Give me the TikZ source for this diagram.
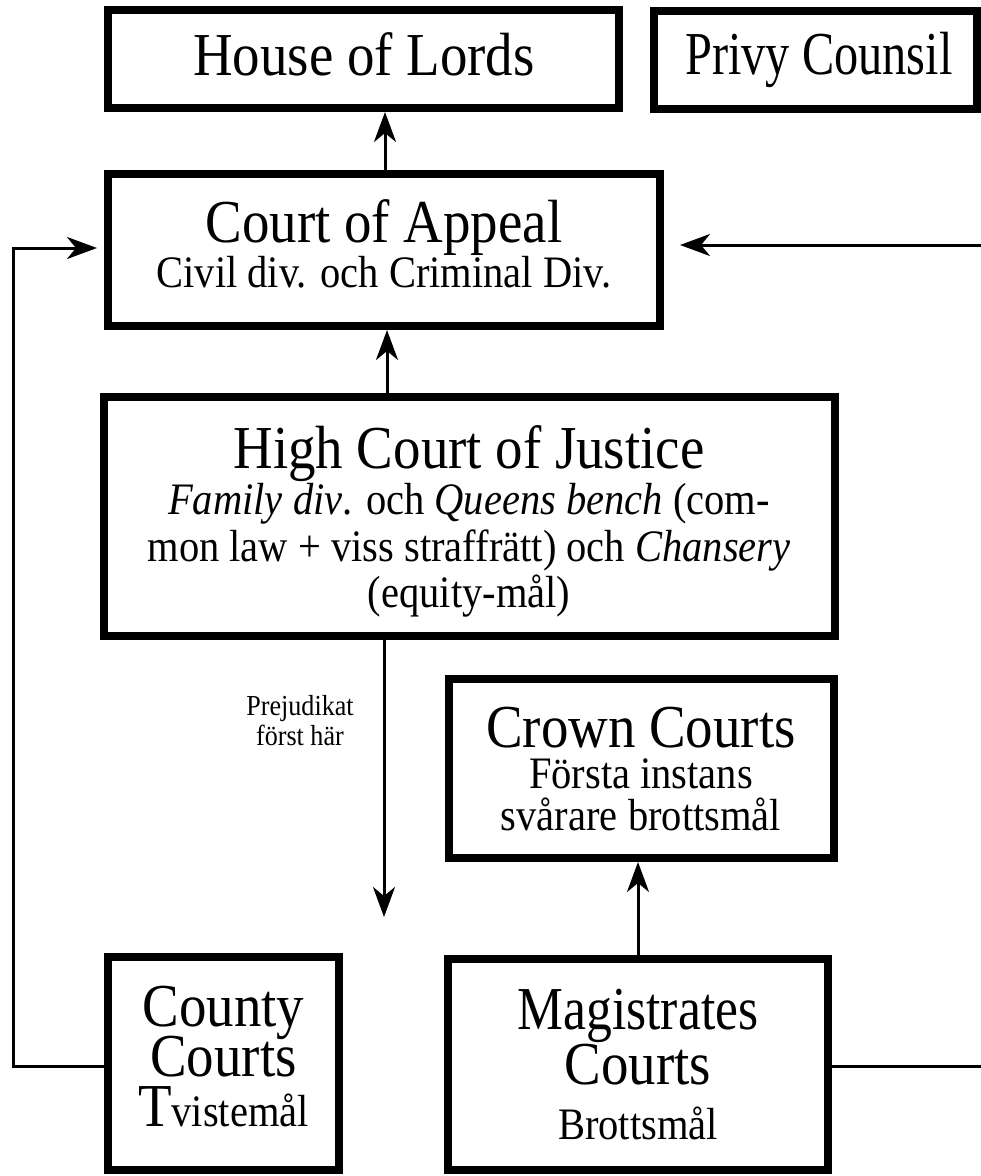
\documentclass[tikz,border=0pt]{standalone}
\usepackage{fontspec}
\usepackage{graphicx}
\setmainfont{Liberation Serif}[FakeStretch=0.9]
\usetikzlibrary{arrows.meta}
% centred lines with a fixed baseline distance; the box's baseline is that of its first line
\newcommand\mystack[2]{\vtop{\baselineskip=#1\lineskiplimit=-\maxdimen\lineskip=0pt
  \halign{\hfil##\hfil\cr#2\crcr}}}
\begin{document}
\begin{tikzpicture}[x=1pt,y=-1pt,
  box/.style={draw, line width=8pt, inner sep=0pt, outer sep=4pt, rectangle},
  arr/.style={line width=3pt, -{Stealth[length=30pt,width=22pt,inset=9pt]}},
  link/.style={line width=3pt},
  big/.style={font=\fontsize{61}{61}\selectfont, inner sep=0pt, anchor=base},
  sub/.style={font=\fontsize{45}{45}\selectfont, inner sep=0pt, anchor=base},
  small/.style={font=\fontsize{29}{29}\selectfont, inner sep=0pt, anchor=base}]
\fill[white] (0,0) rectangle (981,1176);
\useasboundingbox (0,0) rectangle (981,1176);

% boxes
\node[box, minimum width=511pt, minimum height=98pt]  (hol)    at (363.5,59) {};
\node[box, minimum width=323pt, minimum height=98pt]  (privy)  at (815.5,60) {};
\node[box, minimum width=552pt, minimum height=152pt] (coa)    at (384,250) {};
\node[box, minimum width=731pt, minimum height=239pt] (hc)     at (469.5,516.5) {};
\node[box, minimum width=385pt, minimum height=179pt] (crown)  at (641.5,768.5) {};
\node[box, minimum width=231pt, minimum height=213pt] (county) at (223.5,1063.5) {};
\node[box, minimum width=380pt, minimum height=211pt] (mag)    at (638,1064.5) {};

% texts
\node[big] (tHol) at (364,75) {House of Lords};
\node[big] (tPrivy) at (819,74) {\scalebox{0.88}[1]{Privy Counsil}};
\node[big] (tCoa) at (384,242) {\mystack{45pt}{Court of Appeal\cr
  {\fontsize{45}{45}\selectfont Civil div. och Criminal Div.}}};
\node[big] (tHc) at (469,468) {\mystack{46.5pt}{High Court of Justice\cr
  {\fontsize{45}{45}\selectfont \textit{Family div}. och \textit{Queens bench} (com-}\cr
  {\fontsize{45}{45}\selectfont mon law + viss straffrätt) och \textit{Chansery}}\cr
  {\fontsize{45}{45}\selectfont (equity-mål)}}};
\node[small] (tPj) at (300,715) {\mystack{30pt}{Prejudikat\cr först här}};
\node[big] (tCr) at (641,747) {\mystack{41.5pt}{Crown Courts\cr
  {\fontsize{45}{45}\selectfont Första instans}\cr
  {\fontsize{45}{45}\selectfont svårare brottsmål}}};
\node[big] (tCo) at (223.5,1026) {\mystack{50pt}{County\cr Courts\cr
  T{\fontsize{45}{45}\selectfont vistemål}}};
\node[big] (tMa) at (638,1029) {\mystack{55pt}{\scalebox{0.94}[1]{Magistrates}\cr Courts\cr
  {\fontsize{45}{45}\selectfont Brottsmål}}};

% helper coordinates
\coordinate (xa) at (385,0);
\coordinate (xb) at (387,0);
\coordinate (pj) at (384,917);
\coordinate (xc) at (638,0);
\coordinate (lc1) at (13,1066);
\coordinate (lc2) at (13,248);
\coordinate (rc1) at (981,245);
\coordinate (rc2) at (981,1066);

% connectors
\draw[arr] (coa.north -| xa) -- (hol.south -| xa);
\draw[arr] (hc.north -| xb) -- (coa.south -| xb);
\draw[arr] (hc.south -| pj) -- (pj);
\draw[arr] (mag.north -| xc) -- (crown.south -| xc);
\draw[arr, shorten >=7pt] (county.west |- lc1) -- (lc1) -- (lc2) -- (coa.west |- lc2);
\draw[arr, shorten >=16pt] (rc1) -- (coa.east |- rc1);
\draw[link] (mag.east |- rc2) -- (rc2);
\end{tikzpicture}
\end{document}
